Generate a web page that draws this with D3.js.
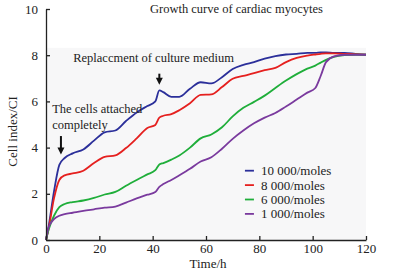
<!DOCTYPE html>
<html>
<head>
<meta charset="utf-8">
<script src="https://cdn.jsdelivr.net/npm/d3@7"></script>
<style>
  body { margin: 0; background: #fff; }
  svg { display: block; font-family: 'Liberation Serif', 'DejaVu Serif', serif; }
</style>
</head>
<body>
<div id="chart"></div>
<script>
const hours = [0, 1, 3, 5, 7, 10, 14, 18, 22, 26, 30, 34, 38, 41, 42.5, 44, 47, 50, 54, 58, 62, 66, 70, 74, 78, 82, 86, 90, 94, 98, 101, 103, 105, 108, 112, 116, 120]

const cells10000 = [0, 0.6, 2.1, 3.25, 3.55, 3.75, 3.92, 4.3, 4.66, 4.74, 5.15, 5.52, 5.8, 6.0, 6.48, 6.4, 6.2, 6.2, 6.55, 6.83, 6.78, 7.05, 7.4, 7.58, 7.7, 7.85, 7.96, 8.03, 8.06, 8.1, 8.1, 8.12, 8.12, 8.1, 8.1, 8.06, 8.02]
const cells8000 = [0, 0.5, 1.8, 2.6, 2.8, 2.88, 3.0, 3.33, 3.6, 3.66, 3.98, 4.4, 4.85, 4.98, 5.3, 5.38, 5.45, 5.62, 5.92, 6.28, 6.3, 6.62, 6.98, 7.1, 7.22, 7.35, 7.45, 7.7, 7.88, 7.98, 8.03, 8.06, 8.08, 8.08, 8.06, 8.05, 8.02]
const cells6000 = [0, 0.45, 1.05, 1.42, 1.56, 1.64, 1.71, 1.82, 1.97, 2.08, 2.35, 2.6, 2.84, 3.02, 3.27, 3.33, 3.48, 3.66, 4.0, 4.4, 4.57, 4.88, 5.35, 5.72, 5.98, 6.25, 6.58, 6.9, 7.18, 7.42, 7.55, 7.68, 7.8, 7.93, 8.0, 8.02, 8.02]
const cells1000 = [0, 0.55, 0.9, 1.05, 1.12, 1.18, 1.26, 1.33, 1.4, 1.45, 1.62, 1.8, 1.96, 2.08, 2.3, 2.42, 2.6, 2.8, 3.08, 3.4, 3.58, 3.95, 4.38, 4.74, 5.05, 5.3, 5.5, 5.78, 6.08, 6.38, 6.58, 7.1, 7.7, 7.95, 8.02, 8.02, 8.02]

const seriesNames = ['10 000/moles', '8 000/moles', '6 000/moles', '1 000/moles']
const seriesColors = ['#2b2f9a', '#e5201f', '#1fae3a', '#7a3a9e']
const xTicks = [0, 20, 40, 60, 80, 100, 120]
const yTicks = [0, 2, 4, 6, 8, 10]

const series = [cells10000, cells8000, cells6000, cells1000].map((vals, i) => ({
  name: seriesNames[i],
  color: seriesColors[i],
  points: hours.map((h, j) => ({ h: h, v: vals[j] }))
}))

const fullWidth = 399,
  fullHeight = 273,
  margin = { top: 9, right: 33, bottom: 33, left: 46 },
  width = fullWidth - margin.left - margin.right,
  height = fullHeight - margin.top - margin.bottom

const x = d3.scaleLinear().domain([0, 120]).range([0, width])
const y = d3.scaleLinear().domain([0, 10]).range([height, 0])

const svg = d3.select('#chart')
  .append('svg')
  .attr('width', fullWidth)
  .attr('height', fullHeight)
  .append('g')
  .attr('transform', `translate(${margin.left}, ${margin.top})`)

// light plot panel
svg.append('rect')
  .attr('x', 0)
  .attr('y', y(8.32))
  .attr('width', width)
  .attr('height', height - y(8.32))
  .style('fill', '#f7f7f8')

const line = d3.line()
  .x(d => x(d.h))
  .y(d => y(d.v))
  .curve(d3.curveMonotoneX)

svg.selectAll('.series')
  .data(series)
  .enter()
  .append('path')
  .attr('class', 'series')
  .attr('d', d => line(d.points))
  .style('fill', 'none')
  .style('stroke', d => d.color)
  .style('stroke-width', 1.8)

// axes
const xAxis = svg.append('g')
  .attr('transform', `translate(0, ${height})`)
  .call(d3.axisBottom(x).tickValues(xTicks).tickSizeInner(-4).tickSizeOuter(0).tickPadding(4))
const yAxis = svg.append('g')
  .call(d3.axisLeft(y).tickValues(yTicks).tickSizeInner(-4).tickSizeOuter(0).tickPadding(8))

;[xAxis, yAxis].forEach(a => {
  a.select('.domain').style('stroke', '#222').style('stroke-width', 1.3)
  a.selectAll('.tick line').style('stroke', '#222').style('stroke-width', 1.3)
  a.selectAll('.tick text')
    .style('font-family', "'Liberation Serif', serif")
    .style('font-size', '13px')
    .style('fill', '#222')
})

svg.append('text')
  .attr('x', x(60) + 2)
  .attr('y', height + 28)
  .attr('text-anchor', 'middle')
  .style('font-size', '13px')
  .style('fill', '#222')
  .text('Time/h')

svg.append('text')
  .attr('transform', `translate(-29, ${y(4.7)}) rotate(-90)`)
  .attr('text-anchor', 'middle')
  .style('font-size', '13px')
  .style('fill', '#222')
  .text('Cell index/CI')

svg.append('text')
  .attr('x', x(39))
  .attr('y', 4)
  .style('font-size', '12.5px')
  .style('fill', '#222')
  .text('Growth curve of cardiac myocytes')

// annotations
const notes = [
  { lines: ['Replaccment of culture medium'], tx: x(10.2), ty: y(7.72), ax: x(42.5), a0: y(7.2), a1: y(6.72) },
  { lines: ['The cells attached', 'completely'], tx: x(2.3), ty: y(5.5), ax: x(5.6), a0: y(4.5), a1: y(3.7) }
]

notes.forEach(n => {
  const t = svg.append('text')
    .style('font-size', '12.5px')
    .style('fill', '#222')
  t.selectAll('tspan')
    .data(n.lines)
    .enter()
    .append('tspan')
    .attr('x', n.tx)
    .attr('y', (d, i) => n.ty + i * 16)
    .text(d => d)
  svg.append('line')
    .attr('x1', n.ax).attr('x2', n.ax)
    .attr('y1', n.a0).attr('y2', n.a1 - 6)
    .style('stroke', '#111')
    .style('stroke-width', 2)
  svg.append('path')
    .attr('d', `M${n.ax - 3.5},${n.a1 - 7}L${n.ax + 3.5},${n.a1 - 7}L${n.ax},${n.a1}Z`)
    .style('fill', '#111')
})

// legend
const legend = svg.selectAll('.legend')
  .data(series)
  .enter()
  .append('g')
  .attr('class', 'legend')
  .attr('transform', (d, i) => `translate(${x(74.6)}, ${y(3.0) + i * 14.4})`)

legend.append('line')
  .attr('x1', 0).attr('x2', 9)
  .style('stroke', d => d.color)
  .style('stroke-width', 1.8)

legend.append('text')
  .attr('x', 16)
  .attr('dy', '0.35em')
  .style('font-size', '13px')
  .style('fill', '#222')
  .text(d => d.name)
</script>
</body>
</html>
